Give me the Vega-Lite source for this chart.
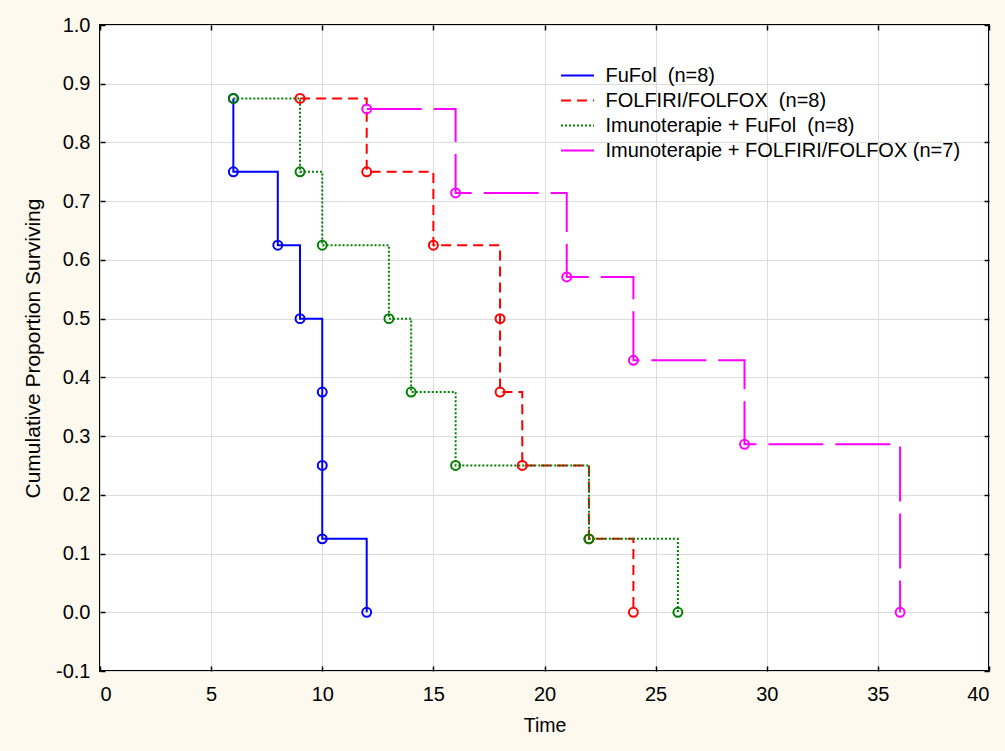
{
  "$schema": "https://vega.github.io/schema/vega-lite/v6.json",
  "width": 889,
  "height": 646,
  "autosize": "none",
  "padding": {"left": 100, "top": 25, "right": 16, "bottom": 80},
  "background": "#fdf9ee",
  "config": {
    "view": {"fill": "white", "stroke": "black", "strokeWidth": 2},
    "font": "Liberation Sans",
    "axis": {
      "domain": false,
      "gridColor": "#dcdcdc",
      "gridWidth": 1,
      "tickColor": "black",
      "tickWidth": 1.5,
      "tickSize": -5,
      "labelFont": "Liberation Sans",
      "labelFontSize": 20,
      "labelColor": "black",
      "titleFont": "Liberation Sans",
      "titleFontSize": 20,
      "titleFontWeight": "normal",
      "titleColor": "black"
    },
    "legend": {
      "orient": "none",
      "legendX": 463,
      "legendY": 36,
      "padding": 0,
      "labelFont": "Liberation Sans",
      "labelFontSize": 20,
      "labelColor": "black",
      "labelOffset": 13.5,
      "symbolSize": 700,
      "symbolStrokeWidth": 2,
      "symbolType": "M-1.25,0H1.25",
      "rowPadding": 0,
      "labelLimit": 500
    }
  },
  "data": {
    "values": [
      {"group": "FuFol", "time": 6, "surv": 0.875},
      {"group": "FuFol", "time": 6, "surv": 0.75},
      {"group": "FuFol", "time": 8, "surv": 0.625},
      {"group": "FuFol", "time": 9, "surv": 0.5},
      {"group": "FuFol", "time": 10, "surv": 0.375},
      {"group": "FuFol", "time": 10, "surv": 0.25},
      {"group": "FuFol", "time": 10, "surv": 0.125},
      {"group": "FuFol", "time": 12, "surv": 0.0},
      {"group": "FOLFIRI/FOLFOX", "time": 9, "surv": 0.875},
      {"group": "FOLFIRI/FOLFOX", "time": 12, "surv": 0.75},
      {"group": "FOLFIRI/FOLFOX", "time": 15, "surv": 0.625},
      {"group": "FOLFIRI/FOLFOX", "time": 18, "surv": 0.5},
      {"group": "FOLFIRI/FOLFOX", "time": 18, "surv": 0.375},
      {"group": "FOLFIRI/FOLFOX", "time": 19, "surv": 0.25},
      {"group": "FOLFIRI/FOLFOX", "time": 22, "surv": 0.125},
      {"group": "FOLFIRI/FOLFOX", "time": 24, "surv": 0.0},
      {"group": "Imunoterapie + FuFol", "time": 6, "surv": 0.875},
      {"group": "Imunoterapie + FuFol", "time": 9, "surv": 0.75},
      {"group": "Imunoterapie + FuFol", "time": 10, "surv": 0.625},
      {"group": "Imunoterapie + FuFol", "time": 13, "surv": 0.5},
      {"group": "Imunoterapie + FuFol", "time": 14, "surv": 0.375},
      {"group": "Imunoterapie + FuFol", "time": 16, "surv": 0.25},
      {"group": "Imunoterapie + FuFol", "time": 22, "surv": 0.125},
      {"group": "Imunoterapie + FuFol", "time": 26, "surv": 0.0},
      {"group": "Imunoterapie + FOLFIRI/FOLFOX", "time": 12, "surv": 0.857},
      {"group": "Imunoterapie + FOLFIRI/FOLFOX", "time": 16, "surv": 0.714},
      {"group": "Imunoterapie + FOLFIRI/FOLFOX", "time": 21, "surv": 0.571},
      {"group": "Imunoterapie + FOLFIRI/FOLFOX", "time": 24, "surv": 0.429},
      {"group": "Imunoterapie + FOLFIRI/FOLFOX", "time": 29, "surv": 0.286},
      {"group": "Imunoterapie + FOLFIRI/FOLFOX", "time": 36, "surv": 0.0}
    ]
  },
  "layer": [
    {
      "mark": {"type": "line", "interpolate": "step-after", "strokeWidth": 2},
      "encoding": {
        "x": {
          "field": "time", "type": "quantitative",
          "scale": {"domain": [0, 40], "nice": false, "zero": false},
          "axis": {"values": [0, 5, 10, 15, 20, 25, 30, 35, 40], "title": "Time", "labelPadding": 18, "titlePadding": 12, "titleFontSize": 19.5}
        },
        "y": {
          "field": "surv", "type": "quantitative",
          "scale": {"domain": [-0.1, 1.0], "nice": false, "zero": false},
          "axis": {"values": [-0.1, 0, 0.1, 0.2, 0.3, 0.4, 0.5, 0.6, 0.7, 0.8, 0.9, 1.0], "labelExpr": "replace(format(datum.value, '.1f'), '\u2212', '-')", "title": "Cumulative Proportion Surviving", "labelPadding": 15, "titlePadding": 12, "titleFontSize": 21}
        },
        "color": {
          "field": "group", "type": "nominal",
          "scale": {"domain": ["FuFol", "FOLFIRI/FOLFOX", "Imunoterapie + FuFol", "Imunoterapie + FOLFIRI/FOLFOX"], "range": ["#0000ff", "#ff0000", "#008000", "#ff00ff"]},
          "legend": {"title": null, "labelExpr": "datum.label == 'FuFol' ? 'FuFol\u00a0 (n=8)' : datum.label == 'FOLFIRI/FOLFOX' ? 'FOLFIRI/FOLFOX\u00a0 (n=8)' : datum.label == 'Imunoterapie + FuFol' ? 'Imunoterapie + FuFol\u00a0 (n=8)' : 'Imunoterapie + FOLFIRI/FOLFOX (n=7)'"}
        },
        "strokeDash": {
          "field": "group", "type": "nominal",
          "scale": {"domain": ["FuFol", "FOLFIRI/FOLFOX", "Imunoterapie + FuFol", "Imunoterapie + FOLFIRI/FOLFOX"], "range": [[1, 0], [10, 6], [2, 2], [55, 12]]},
          "legend": {"title": null, "labelExpr": "datum.label == 'FuFol' ? 'FuFol\u00a0 (n=8)' : datum.label == 'FOLFIRI/FOLFOX' ? 'FOLFIRI/FOLFOX\u00a0 (n=8)' : datum.label == 'Imunoterapie + FuFol' ? 'Imunoterapie + FuFol\u00a0 (n=8)' : 'Imunoterapie + FOLFIRI/FOLFOX (n=7)'"}
        },
        "order": [{"field": "time", "type": "quantitative"}, {"field": "surv", "type": "quantitative", "sort": "descending"}]
      }
    },
    {
      "mark": {"type": "point", "shape": "circle", "filled": false, "size": 80, "strokeWidth": 2, "opacity": 1},
      "encoding": {
        "x": {
          "field": "time", "type": "quantitative",
          "scale": {"domain": [0, 40], "nice": false, "zero": false},
          "axis": {"orient": "top", "values": [0, 5, 10, 15, 20, 25, 30, 35, 40], "labels": false, "grid": false, "title": null}
        },
        "y": {
          "field": "surv", "type": "quantitative",
          "scale": {"domain": [-0.1, 1.0], "nice": false, "zero": false},
          "axis": {"orient": "right", "values": [-0.1, 0, 0.1, 0.2, 0.3, 0.4, 0.5, 0.6, 0.7, 0.8, 0.9, 1.0], "labels": false, "grid": false, "title": null}
        },
        "stroke": {
          "field": "group", "type": "nominal",
          "scale": {"domain": ["FuFol", "FOLFIRI/FOLFOX", "Imunoterapie + FuFol", "Imunoterapie + FOLFIRI/FOLFOX"], "range": ["#0000ff", "#ff0000", "#008000", "#ff00ff"]},
          "legend": null
        }
      }
    }
  ],
  "resolve": {"axis": {"x": "independent", "y": "independent"}}
}
